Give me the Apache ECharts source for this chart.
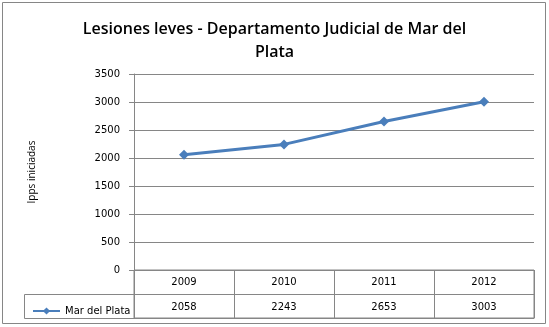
<!DOCTYPE html>
<html><head><meta charset="utf-8">
<script src="https://cdn.jsdelivr.net/npm/echarts@6/dist/echarts.min.js"></script>
<style>html,body{margin:0;padding:0;background:#fff}#c{width:549px;height:327px}</style>
</head><body><div id="c"></div>
<script>
const categories = ['2009', '2010', '2011', '2012'];
const seriesName = 'Mar del Plata';
const values = [2058, 2243, 2653, 3003];
const titleText = 'Lesiones leves - Departamento Judicial de Mar del\nPlata';
const yAxisName = 'Ipps iniciadas';

const gridColor = '#868686';
const lineColor = '#4a7ebb';
const font = 'DejaVu Sans';

const chart = echarts.init(document.getElementById('c'));
chart.setOption({
  animation: false,
  title: {
    text: titleText, left: 'center', top: 13,
    textStyle: { fontFamily: 'Open Sans', fontWeight: 600, fontSize: 16, color: '#000', lineHeight: 23 }
  },
  legend: {
    data: [seriesName], left: 27, top: 301, itemWidth: 27, itemHeight: 9, itemGap: 4,
    textStyle: { fontFamily: font, fontSize: 10, color: '#000' }
  },
  graphic: [
    { type: 'rect', shape: { x: 2.5, y: 2.5, width: 543, height: 321 }, style: { fill: 'none', stroke: gridColor, lineWidth: 1 }, silent: true },
    { type: 'rect', shape: { x: 24.5, y: 294.5, width: 110, height: 24 }, style: { fill: 'none', stroke: gridColor, lineWidth: 1 }, silent: true }
  ],
  grid: [
    { left: 134, right: 15, top: 74, height: 196 },
    { left: 134, right: 15, top: 270, height: 48, show: true, borderColor: gridColor, borderWidth: 1 }
  ],
  xAxis: [
    { type: 'category', gridIndex: 0, data: categories, axisLine: { show: false }, axisTick: { show: false }, axisLabel: { show: false } },
    { type: 'category', gridIndex: 1, position: 'top', data: categories,
      axisLine: { show: true, lineStyle: { color: gridColor } }, axisTick: { show: false },
      splitLine: { show: true, lineStyle: { color: gridColor } },
      axisLabel: { inside: true, margin: 7, fontFamily: font, fontSize: 10, color: '#000' } },
    { type: 'category', gridIndex: 1, position: 'bottom', data: values.map(String),
      axisLine: { show: true, lineStyle: { color: gridColor } }, axisTick: { show: false },
      axisLabel: { inside: true, margin: 6, fontFamily: font, fontSize: 10, color: '#000' } }
  ],
  yAxis: [
    { type: 'value', gridIndex: 0, min: 0, max: 3500, interval: 500,
      name: yAxisName, nameLocation: 'middle', nameGap: 97, nameRotate: 90,
      nameTextStyle: { fontFamily: 'Open Sans', fontSize: 10, color: '#000' },
      axisLine: { show: true, lineStyle: { color: gridColor } },
      axisTick: { show: true, length: 5, lineStyle: { color: gridColor } },
      splitLine: { show: true, lineStyle: { color: gridColor } },
      axisLabel: { margin: 14, fontFamily: font, fontSize: 10, color: '#000', formatter: v => String(v) } },
    { type: 'category', gridIndex: 1, data: ['a', 'b'],
      axisLine: { show: true, lineStyle: { color: gridColor } }, axisTick: { show: false },
      axisLabel: { show: false }, splitLine: { show: true, lineStyle: { color: gridColor } } }
  ],
  series: [{
    name: seriesName, type: 'line', xAxisIndex: 0, yAxisIndex: 0, data: values,
    symbol: 'diamond', symbolSize: 10, color: lineColor,
    lineStyle: { width: 3, color: lineColor }, itemStyle: { color: lineColor }
  }]
});
</script></body></html>
